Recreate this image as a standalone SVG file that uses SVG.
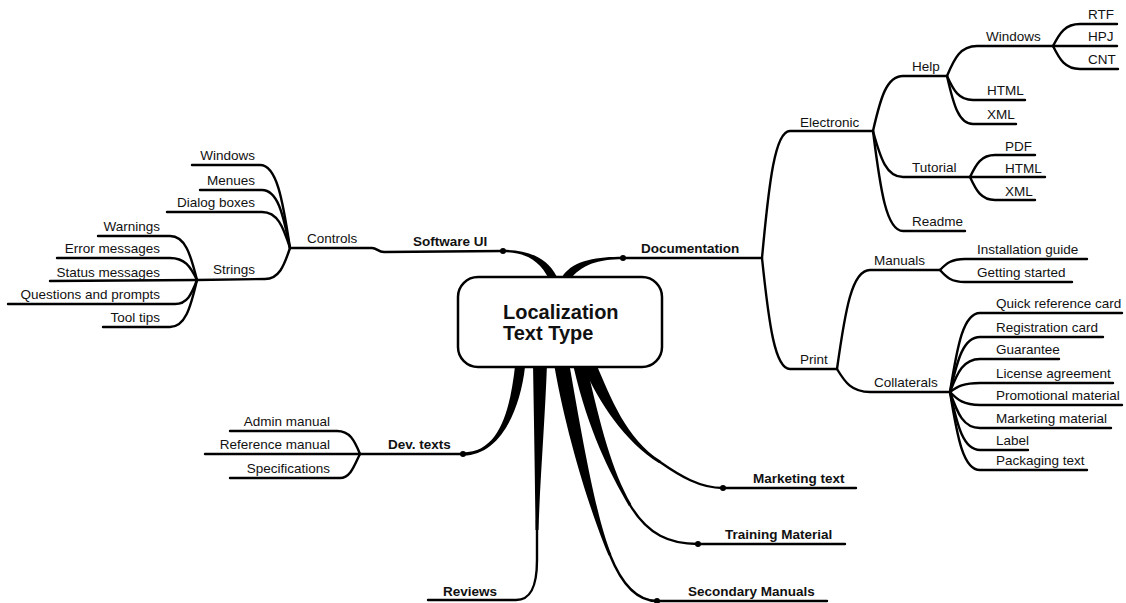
<svg xmlns="http://www.w3.org/2000/svg" width="1126" height="603" viewBox="0 0 1126 603">
<style>
.t{font-family:"Liberation Sans",Arial,sans-serif;font-size:13.5px;fill:#111}
.b{font-weight:bold}
.e{text-anchor:end}
.c{fill:none;stroke:#000;stroke-width:2.4;stroke-linecap:round}
.f{fill:#000;stroke:none}
.ctr{font-family:"Liberation Sans",Arial,sans-serif;font-size:20px;font-weight:bold;fill:#111}
</style>
<rect width="1126" height="603" fill="#fff"/>
<g id="connectors">
  <path class="f" d="M549.4,279.8 C539.4,259.8 525,252.2 503,252.2 L503,249.8 C525,249.8 546.6,256.2 556.6,276.2 Z"/>
  <path class="f" d="M562.8,275.6 C574.8,259.6 598,256.8 623,256.8 L623,259.2 C598,259.2 581.2,264.4 569.2,280.4 Z"/>
  <path class="f" d="M525,367 C520,410.6 500,455.5 463,455.5 L463,452.5 C500,452.5 510,409.4 515,366.4 Z"/>
  <path class="f" d="M533,364 L547,364 C545,420 540,480 538.5,530 L535.5,530 C535,480 534,420 533,364 Z"/>
  <path class="f" d="M569.4,364.7 C582.4,438.7 596.4,519.4 611.4,554.4 L608.6,555.6 C593.6,520.6 567.6,441.3 554.6,367.3 Z"/>
  <path class="f" d="M586.3,364.5 C601.3,428.5 611.3,469.3 631.3,504.3 L628.7,505.7 C608.7,470.7 588.7,431.5 573.7,367.5 Z"/>
  <path class="f" d="M595.9,363.4 C610.9,397.4 625.8,438.7 660.8,460.7 L659.2,463.3 C624.2,441.3 599.1,402.6 584.1,368.6 Z"/>
  <path class="c" d="M503,251 L384,252 C378,252 377,248 372,248 L290,248"/>
  <path class="c" d="M623,258 L762,258"/>
  <path class="c" d="M463,454 L360,454"/>
  <path class="c" d="M537,520 L537,560 C537,588 530,600 516,600 L428,600"/>
  <path class="c" d="M610,555 C622,585 637,601 657,601 L827,601"/>
  <path class="c" d="M630,505 C648,535 670,544 698,544 L845,544"/>
  <path class="c" d="M660,462 C680,476 700,488 723,488 L856,488"/>
  <circle class="f" cx="503" cy="251" r="3"/>
  <circle class="f" cx="623" cy="258" r="3"/>
  <circle class="f" cx="463" cy="454" r="3"/>
  <circle class="f" cx="723" cy="488" r="3"/>
  <circle class="f" cx="698" cy="544" r="3"/>
  <circle class="f" cx="657" cy="601" r="3"/>
  <path class="c" d="M762,258 C769,182 775,131 790,131 L873,131"/>
  <path class="c" d="M762,258 C769,325 775,369 790,369 L837,369"/>
  <path class="c" d="M873,131 C880.5,98 886.5,76 903,76 L947,76"/>
  <path class="c" d="M873,131 C880.5,158.6 886.5,177 903,177 L970,177"/>
  <path class="c" d="M873,131 C880.5,191 886.5,231 903,231 L965,231"/>
  <path class="c" d="M947,76 C954.5,58 960.5,46 977,46 L1053,46"/>
  <path class="c" d="M947,76 C953.5,90.4 958.7,100 973,100 L1025,100"/>
  <path class="c" d="M947,76 C953.5,104.8 958.7,124 973,124 L1016,124"/>
  <path class="c" d="M1053,46 C1059.8,32.8 1065.2,24 1080,24 L1117,24"/>
  <path class="c" d="M1053,46 L1117,46"/>
  <path class="c" d="M1053,46 C1059.8,59.8 1065.2,69 1080,69 L1118,69"/>
  <path class="c" d="M970,177 C976.3,163.8 981.3,155 995,155 L1035,155"/>
  <path class="c" d="M970,177 L1045,177"/>
  <path class="c" d="M970,177 C976.3,190.8 981.3,200 995,200 L1035,200"/>
  <path class="c" d="M837,369 C845.3,309.6 851.9,270 870,270 L940,270"/>
  <path class="c" d="M837,369 C845.3,382.8 851.9,392 870,392 L950,392"/>
  <path class="c" d="M940,270 C946.3,263.4 951.3,259 965,259 L1087,259"/>
  <path class="c" d="M940,270 C946.3,277.2 951.3,282 965,282 L1072,282"/>
  <path class="c" d="M950,392 C957.5,344.6 963.5,313 980,313 L1122,313"/>
  <path class="c" d="M950,392 C957.5,359 963.5,337 980,337 L1103,337"/>
  <path class="c" d="M950,392 C957.5,372.2 963.5,359 980,359 L1059,359"/>
  <path class="c" d="M950,392 C957.5,386.6 963.5,383 980,383 L1113,383"/>
  <path class="c" d="M950,392 C957.5,399.8 963.5,405 980,405 L1122,405"/>
  <path class="c" d="M950,392 C957.5,413.6 963.5,428 980,428 L1111,428"/>
  <path class="c" d="M950,392 C957.5,426.8 963.5,450 980,450 L1028,450"/>
  <path class="c" d="M950,392 C957.5,438.8 963.5,470 980,470 L1087,470"/>
  <path class="c" d="M290,248 C282.5,198.2 276.5,165 260,165 L192,165"/>
  <path class="c" d="M290,248 C283,213.2 277.4,190 262,190 L200,190"/>
  <path class="c" d="M290,248 C283,226.4 277.4,212 262,212 L167,212"/>
  <path class="c" d="M290,248 C283.8,266.6 278.8,279 265,279 L197,280"/>
  <path class="c" d="M197,280 C190.3,253.2 184.9,236 170,236 L98,236"/>
  <path class="c" d="M197,280 C190.3,266.4 184.9,258 170,258 L57,258"/>
  <path class="c" d="M197,280 L50,281"/>
  <path class="c" d="M197,280 C191.5,294.4 187.1,304 175,304 L8,304"/>
  <path class="c" d="M197,280 C190.3,308.8 184.9,327 170,327 L103,327"/>
  <path class="c" d="M360,454 C354.3,440.2 349.7,431 337,431 L230,431"/>
  <path class="c" d="M360,454 L205,454"/>
  <path class="c" d="M360,454 C355,463.6 351,478 340,478 L230,478"/>
</g>
<g id="root">
  <rect x="458" y="277" width="204" height="90" rx="20" fill="#fff" stroke="#000" stroke-width="2.5"/>
  <text class="ctr" x="503" y="319">Localization</text>
  <text class="ctr" x="503" y="340">Text Type</text>
</g>
<g id="software-ui"><text class="t b" x="413" y="246">Software UI</text></g>
<g id="controls"><text class="t" x="307" y="243">Controls</text></g>
<g id="controls-windows"><text class="t e" x="255" y="160">Windows</text></g>
<g id="menues"><text class="t e" x="255" y="185">Menues</text></g>
<g id="dialog-boxes"><text class="t e" x="255" y="207">Dialog boxes</text></g>
<g id="strings"><text class="t e" x="255" y="274">Strings</text></g>
<g id="warnings"><text class="t e" x="160" y="231">Warnings</text></g>
<g id="error-messages"><text class="t e" x="160" y="253">Error messages</text></g>
<g id="status-messages"><text class="t e" x="160" y="277">Status messages</text></g>
<g id="questions"><text class="t e" x="160" y="299">Questions and prompts</text></g>
<g id="tool-tips"><text class="t e" x="160" y="322">Tool tips</text></g>
<g id="documentation"><text class="t b" x="641" y="253">Documentation</text></g>
<g id="electronic"><text class="t" x="800" y="127">Electronic</text></g>
<g id="help"><text class="t" x="912" y="71">Help</text></g>
<g id="help-windows"><text class="t" x="986" y="41">Windows</text></g>
<g id="rtf"><text class="t" x="1088" y="19">RTF</text></g>
<g id="hpj"><text class="t" x="1088" y="41">HPJ</text></g>
<g id="cnt"><text class="t" x="1088" y="64">CNT</text></g>
<g id="help-html"><text class="t" x="987" y="95">HTML</text></g>
<g id="help-xml"><text class="t" x="987" y="119">XML</text></g>
<g id="tutorial"><text class="t" x="912" y="172">Tutorial</text></g>
<g id="pdf"><text class="t" x="1005" y="151">PDF</text></g>
<g id="tut-html"><text class="t" x="1005" y="173">HTML</text></g>
<g id="tut-xml"><text class="t" x="1005" y="196">XML</text></g>
<g id="readme"><text class="t" x="912" y="226">Readme</text></g>
<g id="print"><text class="t" x="800" y="364">Print</text></g>
<g id="manuals"><text class="t" x="874" y="265">Manuals</text></g>
<g id="installation-guide"><text class="t" x="977" y="254">Installation guide</text></g>
<g id="getting-started"><text class="t" x="977" y="277">Getting started</text></g>
<g id="collaterals"><text class="t" x="874" y="387">Collaterals</text></g>
<g id="quick-reference-card"><text class="t" x="996" y="308">Quick reference card</text></g>
<g id="registration-card"><text class="t" x="996" y="332">Registration card</text></g>
<g id="guarantee"><text class="t" x="996" y="354">Guarantee</text></g>
<g id="license-agreement"><text class="t" x="996" y="378">License agreement</text></g>
<g id="promotional-material"><text class="t" x="996" y="400">Promotional material</text></g>
<g id="marketing-material"><text class="t" x="996" y="423">Marketing material</text></g>
<g id="label"><text class="t" x="996" y="445">Label</text></g>
<g id="packaging-text"><text class="t" x="996" y="465">Packaging text</text></g>
<g id="dev-texts"><text class="t b" x="388" y="449">Dev. texts</text></g>
<g id="admin-manual"><text class="t e" x="330" y="426">Admin manual</text></g>
<g id="reference-manual"><text class="t e" x="330" y="449">Reference manual</text></g>
<g id="specifications"><text class="t e" x="330" y="473">Specifications</text></g>
<g id="reviews"><text class="t b" x="443" y="596">Reviews</text></g>
<g id="marketing-text"><text class="t b" x="753" y="483">Marketing text</text></g>
<g id="training-material"><text class="t b" x="725" y="539">Training Material</text></g>
<g id="secondary-manuals"><text class="t b" x="688" y="596">Secondary Manuals</text></g>
</svg>
